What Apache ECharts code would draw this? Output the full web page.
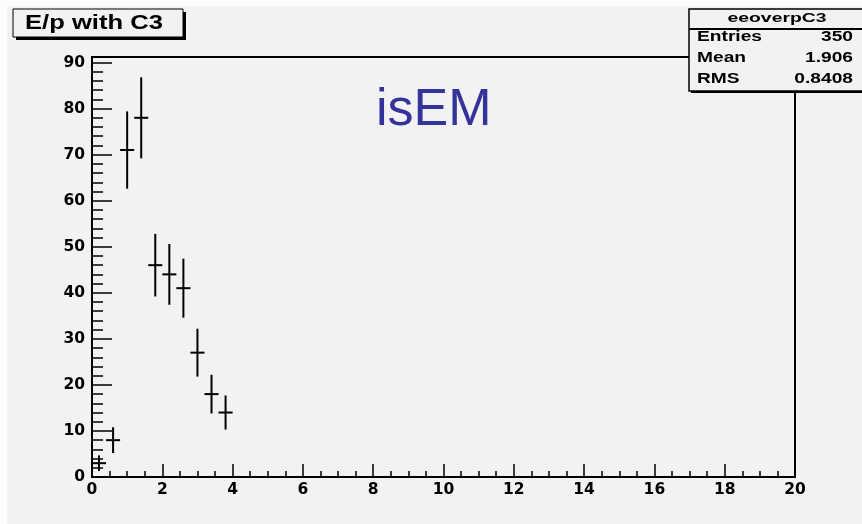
<!DOCTYPE html>
<html>
<head>
<meta charset="utf-8">
<title>E/p with C3</title>
<script src="https://cdn.jsdelivr.net/npm/echarts@6/dist/echarts.min.js"></script>
<style>
  html, body { margin: 0; padding: 0; background: #f2f2f2; }
  #chart { width: 862px; height: 524px; }
</style>
</head>
<body>
<div id="chart"></div>
<script>
// E/p distribution for isEM electron candidates, 0.4-wide bins
const binCenters = [0.2, 0.6, 1.0, 1.4, 1.8, 2.2, 2.6, 3.0, 3.4, 3.8];
const binCounts  = [3, 8, 71, 78, 46, 44, 41, 27, 18, 14];
const binErrors  = [1.7, 2.8, 8.4, 8.8, 6.8, 6.6, 6.4, 5.2, 4.2, 3.7];
const binWidth = 0.4;

// axis ranges and tick steps
const xRange = [0, 20];
const xStep = 2;
const yRange = [0, 91.2];
const yStep = 10;

const histName = 'eeoverpC3';
const titleText = 'E/p with C3';
const tagText = 'isEM';
const statLabels = ['Entries', 'Mean', 'RMS'];

// summary statistics of the histogram
const entries = binCounts.reduce((a, b) => a + b, 0);
const sumX = binCounts.reduce((a, c, i) => a + c * binCenters[i], 0);
const sumX2 = binCounts.reduce((a, c, i) => a + c * binCenters[i] * binCenters[i], 0);
const mean = sumX / entries;
const rms = Math.sqrt(sumX2 / entries - mean * mean);
const statValues = [String(entries), mean.toFixed(3), rms.toPrecision(4)];

const BG = '#f2f2f2';
const FONT = '"Liberation Sans", Arial, Helvetica, sans-serif';

// text width helper used to stretch the boxed labels horizontally
const measureCtx = document.createElement('canvas').getContext('2d');
function textWidth(str, font) {
  measureCtx.font = font;
  return measureCtx.measureText(str).width;
}

function stretchedText(str, x, y, size, weight, align, targetW) {
  const font = weight + ' ' + size + 'px ' + FONT;
  const sx = targetW / textWidth(str, font);
  return {
    type: 'text', x: x, y: y, scaleX: sx, z: 110,
    style: { text: str, font: font, fill: '#000', align: align, verticalAlign: 'middle' }
  };
}

const chart = echarts.init(document.getElementById('chart'), null, { renderer: 'canvas' });

const statRowsY = [37.5, 58, 79];
const statGraphics = [];
statLabels.forEach((lab, i) => {
  statGraphics.push(stretchedText(lab, 697, statRowsY[i], 14, 'bold', 'left', textWidth(lab, 'bold 14px ' + FONT) * 1.37));
  statGraphics.push(stretchedText(statValues[i], 853, statRowsY[i], 14, 'bold', 'right', textWidth(statValues[i], 'bold 14px ' + FONT) * 1.37));
});

chart.setOption({
  backgroundColor: BG,
  animation: false,
  grid: {
    left: 92, right: 67, top: 57, bottom: 47,
    show: true, borderColor: '#000', borderWidth: 2, backgroundColor: 'transparent',
    outerBoundsMode: 'none'
  },
  xAxis: {
    type: 'value', min: xRange[0], max: xRange[1], interval: xStep,
    axisLine: { show: true, onZero: false, lineStyle: { color: '#000', width: 2 } },
    axisTick: { show: true, inside: true, length: 13, lineStyle: { color: '#000', width: 1.5 } },
    minorTick: { show: true, splitNumber: 4, length: 6, lineStyle: { color: '#000', width: 1.5 } },
    axisLabel: { color: '#000', fontFamily: '"DejaVu Sans", sans-serif', fontWeight: 'bold', fontSize: 15.5, margin: 5 },
    splitLine: { show: false }
  },
  yAxis: {
    type: 'value', min: yRange[0], max: yRange[1], interval: yStep,
    axisLine: { show: true, onZero: false, lineStyle: { color: '#000', width: 2 } },
    axisTick: { show: true, inside: true, length: 20, lineStyle: { color: '#000', width: 1.5 } },
    minorTick: { show: true, splitNumber: 5, length: 11, lineStyle: { color: '#000', width: 1.5 } },
    axisLabel: {
      color: '#000', fontFamily: '"DejaVu Sans", sans-serif', fontWeight: 'bold', fontSize: 15.5,
      margin: 7, showMaxLabel: false, padding: [0, 0, 8, 0]
    },
    splitLine: { show: false }
  },
  series: [{
    type: 'custom',
    data: binCenters.map((x, i) => [x, binCounts[i], binErrors[i]]),
    encode: { x: 0, y: 1 },
    renderItem: function (params, api) {
      const x = api.value(0), y = api.value(1), e = api.value(2);
      const c = api.coord([x, y]);
      const top = api.coord([x, y + e]);
      const bot = api.coord([x, Math.max(0, y - e)]);
      const l = api.coord([x - binWidth / 2, y]);
      const r = api.coord([x + binWidth / 2, y]);
      const st = { stroke: '#000', lineWidth: 2 };
      return {
        type: 'group',
        children: [
          { type: 'line', shape: { x1: c[0], y1: top[1], x2: c[0], y2: bot[1] }, style: st },
          { type: 'line', shape: { x1: l[0], y1: c[1], x2: r[0], y2: c[1] }, style: st }
        ]
      };
    }
  }],
  graphic: [
    // light edge strips of the canvas
    { type: 'rect', shape: { x: 0, y: 0, width: 862, height: 6 }, style: { fill: '#fdfdfd' }, z: 90 },
    { type: 'rect', shape: { x: 0, y: 0, width: 7, height: 524 }, style: { fill: '#fdfdfd' }, z: 90 },
    // title box with drop shadow
    { type: 'rect', shape: { x: 16, y: 12, width: 170, height: 28 }, style: { fill: '#000' }, z: 100 },
    { type: 'rect', shape: { x: 13, y: 9, width: 170, height: 28 }, style: { fill: BG, stroke: '#000', lineWidth: 1 }, z: 101 },
    stretchedText(titleText, 25, 23, 20, 'bold', 'left', 138),
    // statistics box
    { type: 'rect', shape: { x: 691, y: 11, width: 180, height: 82 }, style: { fill: '#000' }, z: 100 },
    { type: 'rect', shape: { x: 689, y: 9, width: 180, height: 82 }, style: { fill: BG, stroke: '#000', lineWidth: 1.5 }, z: 101 },
    { type: 'line', shape: { x1: 689, y1: 29, x2: 862, y2: 29 }, style: { stroke: '#000', lineWidth: 2 }, z: 102 },
    stretchedText(histName, 777, 18.5, 13, 'bold', 'center', 99),
    ...statGraphics,
    // selection tag
    {
      type: 'text', x: 376, y: 111, z: 110,
      style: { text: tagText, font: 'normal 52px ' + FONT, fill: '#333399', align: 'left', verticalAlign: 'middle' }
    }
  ]
});
</script>
</body>
</html>
